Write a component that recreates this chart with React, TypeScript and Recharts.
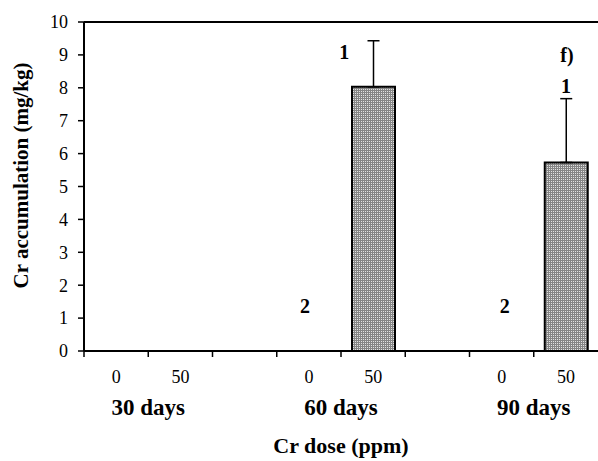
import React from 'react';
import {
  ComposedChart,
  Bar,
  ErrorBar,
  Scatter,
  XAxis,
  YAxis,
  ReferenceLine,
  Customized,
} from 'recharts';

// one slot per x position: dose within each sampling time, with empty spacer slots between groups
const slotKeys = ['30d-0', '30d-50', 'gap-a', '60d-0', '60d-50', 'gap-b', '90d-0', '90d-50'];
const doseLabels = ['0', '50', '', '0', '50', '', '0', '50'];
const groupLabels = ['', '30 days', '', '', '60 days', '', '', '90 days'];
const crMeans = [0, 0, null, 0, 8.03, null, 0, 5.73];
const crErrors = [null, null, null, null, 1.4, null, null, 1.94];
const letters = ['', '', '', '2', '1', '', '2', '1'];
const letterAt = [null, null, null, 1.37, 9.1, null, 1.37, 8.05];
const yTicks = [0, 1, 2, 3, 4, 5, 6, 7, 8, 9, 10];

const data = slotKeys.map((key, i) => ({
  key,
  dose: doseLabels[i],
  group: groupLabels[i],
  mean: crMeans[i],
  err: crErrors[i] == null ? null : [0, crErrors[i]],
  letter: letters[i],
  letterAt: letterAt[i],
}));

const SERIF = "'Liberation Serif', 'Times New Roman', serif";
const LETTER_DX: Record<string, number> = { '60d-50': -29, '60d-0': -4, '90d-0': 3 };

const DoseTick = (props: any) => {
  const { x, y, payload, index } = props;
  const half = payload && typeof payload.offset === 'number' && payload.offset > 0 ? payload.offset : 514 / 16;
  const row = data[index] || data.find((d) => d.key === payload.value);
  return (
    <g>
      <line x1={x - half} y1={y} x2={x - half} y2={y + 6} stroke="#000" strokeWidth={1.5} />
      {row && row.dose ? (
        <text x={x} y={y + 32} textAnchor="middle" fontFamily={SERIF} fontSize={18} fill="#000">
          {row.dose}
        </text>
      ) : null}
      {row && row.group ? (
        <text x={x - half} y={y + 64} textAnchor="middle" fontFamily={SERIF} fontSize={23} fontWeight="bold" fill="#000">
          {row.group}
        </text>
      ) : null}
    </g>
  );
};

const LetterMark = (props: any) => {
  const { cx, cy, payload } = props;
  if (!payload || !payload.letter || cx == null || cy == null || isNaN(cy)) return null;
  const dx = LETTER_DX[payload.key] || 0;
  return (
    <text x={cx + dx} y={cy + 7} textAnchor="middle" fontFamily={SERIF} fontSize={20} fontWeight="bold" fill="#000">
      {payload.letter}
    </text>
  );
};

const YTitle = (props: any) => {
  const vb = props.viewBox || { x: 0, y: 22, width: 84, height: 329 };
  const cy = vb.y + vb.height / 2 - 11;
  return (
    <text
      x={28}
      y={cy}
      transform={`rotate(-90 28 ${cy})`}
      textAnchor="middle"
      fontFamily={SERIF}
      fontSize={21}
      fontWeight="bold"
      fill="#000"
    >
      Cr accumulation (mg/kg)
    </text>
  );
};

const XTitle = (props: any) => {
  const vb = props.viewBox || { x: 84, y: 351, width: 514, height: 110 };
  return (
    <text x={vb.x + vb.width / 2} y={vb.y + 102} textAnchor="middle" fontFamily={SERIF} fontSize={22} fontWeight="bold" fill="#000">
      Cr dose (ppm)
    </text>
  );
};

const PanelTag = () => (
  <text x={567} y={62} textAnchor="middle" fontFamily={SERIF} fontSize={20} fontWeight="bold" fill="#000">
    f)
  </text>
);

export default function App() {
  return (
    <div style={{ position: 'absolute', left: 0, top: 0, width: 598, height: 461, background: '#fff' }}>
      <ComposedChart width={598} height={461} data={data} margin={{ top: 22, right: 0, bottom: 0, left: 0 }}>
        <defs>
          <pattern id="stipple" width="2" height="2" patternUnits="userSpaceOnUse">
            <rect x="0" y="0" width="2" height="2" fill="#858585" />
            <rect x="1" y="1" width="1" height="1" fill="#e2e2e2" />
          </pattern>
        </defs>
        <XAxis
          dataKey="key"
          height={110}
          interval={0}
          tickSize={0}
          tickMargin={0}
          tickLine={false}
          axisLine={{ stroke: '#000', strokeWidth: 2 }}
          tick={<DoseTick />}
          label={<XTitle />}
        />
        <YAxis
          width={84}
          domain={[0, 10]}
          ticks={yTicks}
          interval={0}
          tickSize={6}
          tickMargin={10}
          axisLine={{ stroke: '#000', strokeWidth: 2 }}
          tickLine={{ stroke: '#000', strokeWidth: 1.5 }}
          tick={{ fontFamily: SERIF, fontSize: 18, fill: '#000' }}
          label={<YTitle />}
        />
        <ReferenceLine y={10} stroke="#000" strokeWidth={2} />
        <Bar dataKey="mean" barSize={43} fill="url(#stipple)" stroke="#000" strokeWidth={2} isAnimationActive={false}>
          <ErrorBar dataKey="err" direction="y" width={6} stroke="#000" strokeWidth={1.5} />
        </Bar>
        <Scatter dataKey="letterAt" shape={<LetterMark />} isAnimationActive={false} />
        <Customized component={PanelTag} />
      </ComposedChart>
    </div>
  );
}
